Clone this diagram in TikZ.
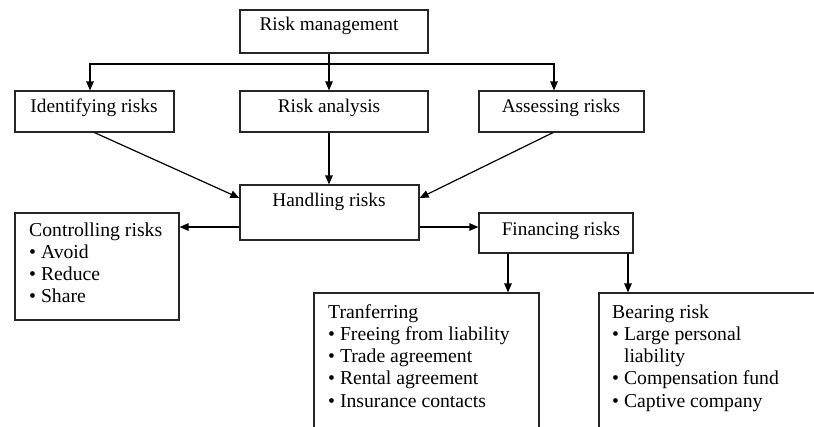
\documentclass[tikz,border=0pt]{standalone}
\usepackage{fontspec}
\setmainfont{Liberation Serif}
\usetikzlibrary{arrows.meta}

\tikzset{
  box/.style={draw=black!85, line width=1.2pt, inner sep=0pt},
  txt/.style={inner sep=0pt, anchor=base, font=\fontsize{19.3}{22.3}\selectfont},
  lst/.style={inner sep=0pt, anchor=base west, font=\fontsize{19.7}{22.3}\selectfont},
  conn/.style={draw=black, line width=1.2pt, -{Triangle[length=9pt,width=7.5pt]}},
}

\begin{document}
\begin{tikzpicture}[x=1pt, y=-1pt]
  \useasboundingbox (0,0) rectangle (814,426);
  \fill[white] (0,0) rectangle (814,426);
  \clip (0,0) rectangle (814,426);

  % boxes
  \node[box, minimum width=188pt, minimum height=43pt] (rm) at (334,31.5) {};
  \node[box, minimum width=159pt, minimum height=41pt] (ir) at (94.5,111.5) {};
  \node[box, minimum width=188pt, minimum height=41pt] (ra) at (334,111.5) {};
  \node[box, minimum width=165pt, minimum height=41pt] (as) at (561.5,111.5) {};
  \node[box, minimum width=179pt, minimum height=55pt] (hr) at (329.5,212.5) {};
  \node[box, minimum width=164pt, minimum height=107pt] (cr) at (97,266.5) {};
  \node[box, minimum width=154pt, minimum height=40pt] (fr) at (556,233) {};
  \node[box, minimum width=225pt, minimum height=147pt] (tr) at (426.5,366.5) {};
  \node[box, minimum width=241pt, minimum height=147pt] (br) at (719.5,366.5) {};

  % titles
  \node[txt] (rmt) at (329,30) {Risk management};
  \node[txt] (irt) at (94,112) {Identifying risks};
  \node[txt] (rat) at (329,112) {Risk analysis};
  \node[txt] (ast) at (561,112) {Assessing risks};
  \node[txt] (hrt) at (329,206) {Handling risks};
  \node[txt] (frt) at (561,235) {Financing risks};

  % lists
  \node[lst] (crt) at (29,236) {\begin{tabular}[t]{@{}l@{}}
    Controlling risks\\
    \textbullet\ Avoid\\
    \textbullet\ Reduce\\
    \textbullet\ Share
  \end{tabular}};
  \node[lst] (trt) at (328,318) {\begin{tabular}[t]{@{}l@{}}
    Tranferring\\
    \textbullet\ Freeing from liability\\
    \textbullet\ Trade agreement\\
    \textbullet\ Rental agreement\\
    \textbullet\ Insurance contacts
  \end{tabular}};
  \node[lst] (brt) at (612,318) {\begin{tabular}[t]{@{}l@{}}
    Bearing risk\\
    \textbullet\ Large personal\\
    \phantom{\textbullet\ }liability\\
    \textbullet\ Compensation fund\\
    \textbullet\ Captive company
  \end{tabular}};

  % connectors
  \coordinate (split) at (329,64);
  \draw[conn] (rm.south -| split) -- (ra.north -| split);
  \coordinate (irin) at ([xshift=-4.5pt]ir.north);
  \coordinate (asin) at ([xshift=-7.5pt]as.north);
  \draw[conn] (split) -| (irin);
  \draw[conn] (split) -| (asin);

  \coordinate (raout) at ([xshift=-5pt]ra.south);
  \draw[conn] (raout) -- (raout |- hr.north);
  \draw[conn] (ir.south) -- ([yshift=14.5pt]hr.west);
  \draw[conn] ([xshift=-8.5pt]as.south) -- ([yshift=14.5pt]hr.east);

  \coordinate (hl) at ([yshift=-14.5pt]hr.west);
  \coordinate (hrr) at ([yshift=-14.5pt]hr.east);
  \draw[conn] (hl) -- (hl -| cr.east);
  \draw[conn] (hrr) -- (hrr -| fr.west);

  \coordinate (f1) at ([xshift=-48pt]fr.south);
  \coordinate (f2) at ([xshift=72pt]fr.south);
  \draw[conn] (f1) -- (f1 |- tr.north);
  \draw[conn] (f2) -- (f2 |- br.north);
\end{tikzpicture}
\end{document}
